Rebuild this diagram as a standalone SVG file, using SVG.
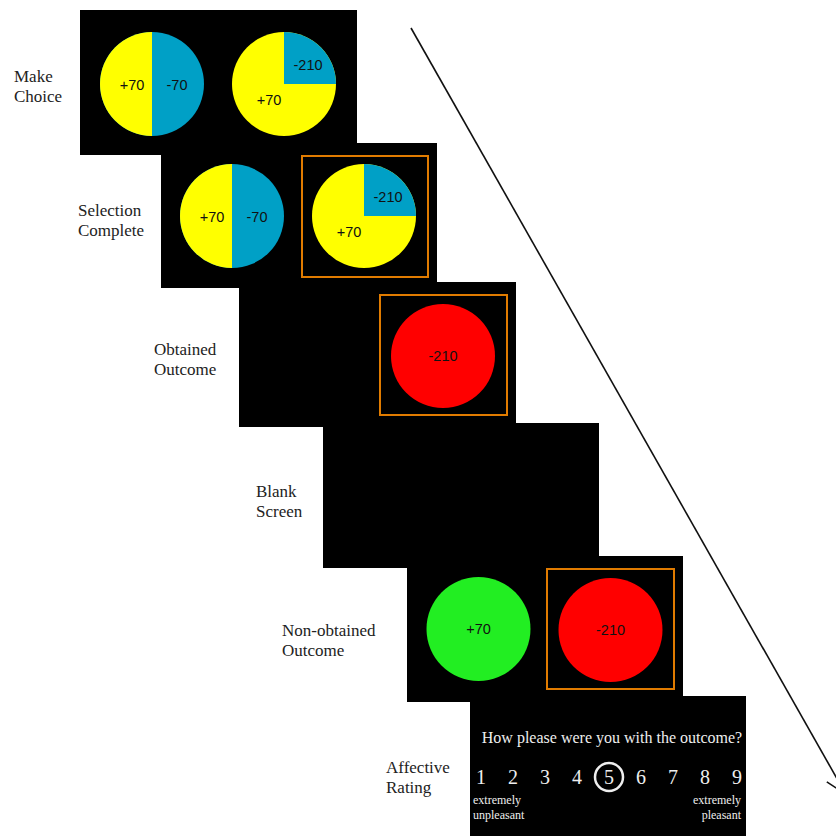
<svg xmlns="http://www.w3.org/2000/svg" width="836" height="836" viewBox="0 0 836 836">
<style>
.panel{fill:#000;}
.lbl{font-family:"Liberation Serif","Times New Roman",serif;font-size:17px;fill:#222;}
.num{font-family:"Liberation Sans",Arial,sans-serif;font-size:14.5px;fill:#111;text-anchor:middle;}
.box{fill:none;stroke:#e07b00;stroke-width:2;}
.yel{fill:#ffff00;}
.blu{fill:#00a0c6;}
.wt{font-family:"Liberation Serif","Times New Roman",serif;fill:#eee;}
.conn{stroke:#111;stroke-width:1.6;fill:none;}
</style>
<rect width="836" height="836" fill="#fff"/>

<g id="connectors">
  <line class="conn" x1="411" y1="28" x2="846" y2="794.5"/>
  <polyline class="conn" points="826.8,781.8 846,794.5 845,771.5"/>
</g>

<g id="panel6">
  <rect class="panel" x="470" y="696" width="276" height="145"/>
  <text class="wt" x="612" y="743" font-size="16" text-anchor="middle">How please were you with the outcome?</text>
  <g font-size="20" text-anchor="middle">
    <text class="wt" x="481" y="784">1</text>
    <text class="wt" x="513" y="784">2</text>
    <text class="wt" x="545" y="784">3</text>
    <text class="wt" x="577" y="784">4</text>
    <text class="wt" x="609" y="784">5</text>
    <text class="wt" x="641" y="784">6</text>
    <text class="wt" x="673" y="784">7</text>
    <text class="wt" x="705" y="784">8</text>
    <text class="wt" x="737" y="784">9</text>
  </g>
  <circle cx="609" cy="777" r="14" fill="none" stroke="#eee" stroke-width="2.5"/>
  <text class="wt" x="473" y="804" font-size="12">extremely</text>
  <text class="wt" x="473" y="819" font-size="12">unpleasant</text>
  <text class="wt" x="741" y="804" font-size="12" text-anchor="end">extremely</text>
  <text class="wt" x="741" y="819" font-size="12" text-anchor="end">pleasant</text>
  <text class="lbl" x="386" y="773">Affective</text>
  <text class="lbl" x="386" y="793">Rating</text>
</g>

<g id="panel5">
  <rect class="panel" x="407" y="556" width="276" height="146"/>
  <circle cx="478.5" cy="629" r="52" fill="#22ee22"/>
  <text class="num" x="478.5" y="634">+70</text>
  <rect class="box" x="547" y="569" width="127" height="120"/>
  <circle cx="610.5" cy="630" r="52" fill="#ff0000"/>
  <text class="num" x="610.5" y="635">-210</text>
  <text class="lbl" x="282" y="636">Non-obtained</text>
  <text class="lbl" x="282" y="656">Outcome</text>
</g>

<g id="panel4">
  <rect class="panel" x="323" y="423" width="276" height="145"/>
  <text class="lbl" x="256" y="497">Blank</text>
  <text class="lbl" x="256" y="517">Screen</text>
</g>

<g id="panel3">
  <rect class="panel" x="239" y="282" width="277" height="145"/>
  <rect class="box" x="380" y="295" width="127" height="120"/>
  <circle cx="443" cy="356" r="52" fill="#ff0000"/>
  <text class="num" x="443" y="361">-210</text>
  <text class="lbl" x="154" y="355">Obtained</text>
  <text class="lbl" x="154" y="375">Outcome</text>
</g>

<g id="panel2">
  <rect class="panel" x="161" y="143" width="276" height="145"/>
  <circle class="blu" cx="232" cy="216" r="52"/>
  <path class="yel" d="M232,164 A52,52 0 0 0 232,268 Z"/>
  <text class="num" x="212" y="222">+70</text>
  <text class="num" x="257" y="222">-70</text>
  <rect class="box" x="302" y="156" width="126" height="121"/>
  <circle class="yel" cx="364" cy="216" r="52"/>
  <path class="blu" d="M364,216 L364,164 A52,52 0 0 1 416,216 Z"/>
  <text class="num" x="388" y="202">-210</text>
  <text class="num" x="349" y="237">+70</text>
  <text class="lbl" x="78" y="216">Selection</text>
  <text class="lbl" x="78" y="236">Complete</text>
</g>

<g id="panel1">
  <rect class="panel" x="80" y="10" width="277" height="145"/>
  <circle class="blu" cx="152" cy="84" r="52"/>
  <path class="yel" d="M152,32 A52,52 0 0 0 152,136 Z"/>
  <text class="num" x="132" y="90">+70</text>
  <text class="num" x="177" y="90">-70</text>
  <circle class="yel" cx="284" cy="84" r="52"/>
  <path class="blu" d="M284,84 L284,32 A52,52 0 0 1 336,84 Z"/>
  <text class="num" x="308" y="70">-210</text>
  <text class="num" x="269" y="105">+70</text>
  <text class="lbl" x="14" y="82">Make</text>
  <text class="lbl" x="14" y="102">Choice</text>
</g>
</svg>
